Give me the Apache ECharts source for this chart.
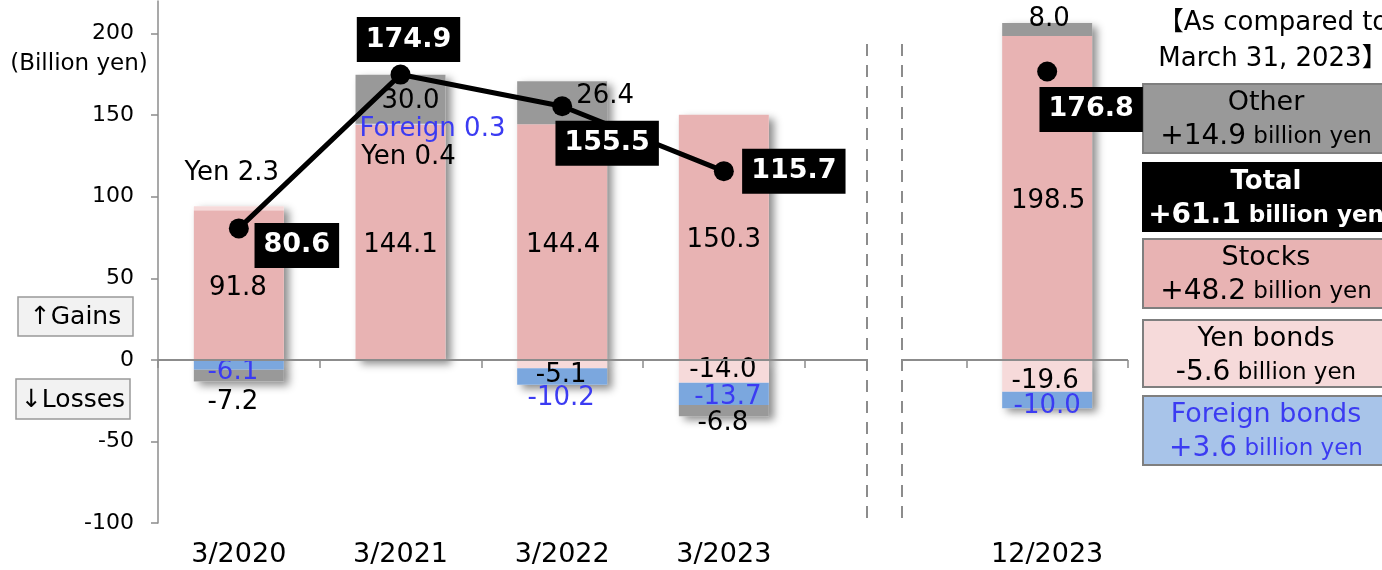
<!DOCTYPE html>
<html><head><meta charset="utf-8">
<script src="https://cdn.jsdelivr.net/npm/echarts@6/dist/echarts.min.js"></script>
<style>html,body{margin:0;padding:0;background:#fff}#c{width:1382px;height:570px}</style>
</head><body><div id="c"></div>
<script>
// ---- data ----
const categories = ['3/2020', '3/2021', '3/2022', '3/2023', '', '12/2023'];
const stocks = [91.8, 144.1, 144.4, 150.3, null, 198.5];
const yenBonds = [2.3, 0.4, -5.1, -14.0, null, -19.6];
const foreignBonds = [-6.1, 0.3, -10.2, -13.7, null, -10.0];
const other = [-7.2, 30.0, 26.4, -6.8, null, 8.0];
const total = [80.6, 174.9, 155.5, 115.7, null, 176.8];
const yTicks = [-100, -50, 0, 50, 100, 150, 200];
const yenPrefix = ['Yen ', 'Yen ', '', '', '', ''];
const foreignPrefix = ['', 'Foreign ', '', '', '', ''];
const changeNames = ['Other', 'Total', 'Stocks', 'Yen bonds', 'Foreign bonds'];
const changeValues = ['+14.9', '+61.1', '+48.2', '-5.6', '+3.6'];

// ---- styles / layout ----
const FONT = '"DejaVu Sans", "Noto Sans CJK JP", sans-serif';
const C_STOCKS = '#E8B3B3', C_YEN = '#F6DADA', C_FOREIGN = '#7BA7DE', C_OTHER = '#999999';
const C_BLUE_TXT = '#3B3BF2', AXIS = '#8c8c8c';
const stockOff = [[-1,3],[0,3],[1,3],[0,3],null,[1,3]];
const yenOff = [[-7,-35],[8,33],[-1,11],[-1,-1],null,[-2,5]];
const foreignOff = [[-6,7],[32,5],[-1,22],[4,3],null,[0,6]];
const otherOff = [[-6,27],[10,2],[43,-7],[-1,13],null,[2,-10]];
const totalOff = [[58,17],[8,-35],[45,37],[70,0],null,[44,38]];

function segSeries(name, values, color, offsets, prefixes, txtColor) {
  return {
    type: 'bar', name, stack: 'main', xAxisIndex: 0, barWidth: 90, barGap: '-100%', z: 3,
    itemStyle: { color },
    data: values.map((v, i) => v == null ? '-' : { value: v, label: { offset: offsets[i] } }),
    label: {
      show: true, position: 'inside', color: txtColor, fontSize: 26, fontFamily: FONT,
      textBorderWidth: 0,
      formatter: p => (prefixes ? prefixes[p.dataIndex] : '') + Number(p.value).toFixed(1)
    }
  };
}
const posSum = categories.map((c, i) => [stocks, yenBonds, foreignBonds, other].reduce((s, a) => s + (a[i] > 0 ? a[i] : 0), 0));
const negSum = categories.map((c, i) => [stocks, yenBonds, foreignBonds, other].reduce((s, a) => s + (a[i] < 0 ? a[i] : 0), 0));
function shadowSeries(vals) {
  return {
    type: 'bar', stack: 'shadow', xAxisIndex: 0, barWidth: 90, barGap: '-100%', z: 2, silent: true,
    itemStyle: { color: '#fff', shadowColor: 'rgba(0,0,0,0.45)', shadowBlur: 8, shadowOffsetX: 5, shadowOffsetY: 4 },
    data: vals.map(v => v === 0 ? '-' : v)
  };
}

const graphics = [];
graphics.push({ type: 'text', x: 79, y: 64, style: { text: '(Billion yen)', fontSize: 23, fontFamily: FONT, fill: '#000', align: 'center', verticalAlign: 'middle' } });
[['↑Gains', 18, 297, 115, 39], ['↓Losses', 16, 379, 114, 40]].forEach(([t, x, y, w, h]) => {
  graphics.push({ type: 'rect', shape: { x, y, width: w, height: h }, style: { fill: '#F2F2F2', stroke: '#999', lineWidth: 1.5 } });
  graphics.push({ type: 'text', x: x + w / 2, y: y + h / 2 + 1, style: { text: t, fontSize: 25, fontFamily: FONT, fill: '#000', align: 'center', verticalAlign: 'middle' } });
});
graphics.push({ type: 'text', x: 1273, y: 23, style: { text: '【As compared to', fontSize: 26, fontFamily: FONT, fill: '#000', align: 'center', verticalAlign: 'middle' } });
graphics.push({ type: 'text', x: 1273, y: 59, style: { text: 'March 31, 2023】', fontSize: 26, fontFamily: FONT, fill: '#000', align: 'center', verticalAlign: 'middle' } });
const boxStyle = [
  { y: 84, h: 69, fill: '#999999', stroke: '#7f7f7f', color: '#000', bold: false },
  { y: 163, h: 68, fill: '#000000', stroke: '#000', color: '#fff', bold: true },
  { y: 239, h: 69, fill: '#E8B3B3', stroke: '#7f7f7f', color: '#000', bold: false },
  { y: 320, h: 67, fill: '#F6DADA', stroke: '#7f7f7f', color: '#000', bold: false },
  { y: 396, h: 69, fill: '#A8C4E9', stroke: '#7f7f7f', color: C_BLUE_TXT, bold: false }
];
changeNames.forEach((n, i) => {
  const b = boxStyle[i];
  const fw = b.bold ? 'bold' : 'normal';
  graphics.push({ type: 'rect', shape: { x: 1143, y: b.y, width: 260, height: b.h }, style: { fill: b.fill, stroke: b.stroke, lineWidth: 2 } });
  graphics.push({ type: 'text', x: 1266, y: b.y + 19, style: { text: n, fontSize: b.bold ? 26 : 27, fontWeight: fw, fontFamily: FONT, fill: b.color, align: 'center', verticalAlign: 'middle' } });
  graphics.push({ type: 'text', x: 1266, y: b.y + 53, style: {
    text: '{a|' + changeValues[i] + '}{b| billion yen}', align: 'center', verticalAlign: 'middle', fill: b.color,
    rich: { a: { fontSize: 28, fontWeight: fw, fontFamily: FONT, fill: b.color, color: b.color }, b: { fontSize: 23, fontWeight: fw, fontFamily: FONT, fill: b.color, color: b.color } }
  } });
});

const chart = echarts.init(document.getElementById('c'));
chart.setOption({
  animation: false,
  textStyle: { fontFamily: FONT },
  grid: { left: 158, right: 254, top: 1, bottom: 47, containLabel: false, outerBoundsMode: 'none' },
  xAxis: [
    { type: 'category', data: categories, position: 'bottom', axisLine: { show: false, onZero: false }, axisTick: { show: false },
      axisLabel: { fontSize: 27, color: '#000', margin: 18, fontFamily: FONT, interval: 0 } },
    { type: 'category', data: categories, position: 'bottom', axisLine: { show: true, onZero: true, lineStyle: { opacity: 0 } },
      axisTick: { show: true, length: 8, lineStyle: { color: AXIS, width: 1.5 } }, axisLabel: { show: false } },
    { type: 'value', min: 0, max: 6, show: false }
  ],
  yAxis: {
    type: 'value', min: -100, max: 220, interval: 50,
    axisLine: { show: true, lineStyle: { color: AXIS, width: 1.5 } },
    axisTick: { show: true, length: 7, customValues: yTicks, lineStyle: { color: AXIS, width: 1.5 } },
    axisLabel: { customValues: yTicks, fontSize: 22, color: '#000', margin: 24, fontFamily: FONT },
    splitLine: { show: false }
  },
  graphic: graphics,
  series: [
    shadowSeries(posSum),
    shadowSeries(negSum),
    segSeries('Stocks', stocks, C_STOCKS, stockOff, null, '#000'),
    segSeries('Yen bonds', yenBonds, C_YEN, yenOff, yenPrefix, '#000'),
    segSeries('Foreign bonds', foreignBonds, C_FOREIGN, foreignOff, foreignPrefix, C_BLUE_TXT),
    segSeries('Other', other, C_OTHER, otherOff, null, '#000'),
    {
      type: 'line', name: 'Total', xAxisIndex: 0, z: 6, connectNulls: false,
      symbol: 'circle', symbolSize: 20, showAllSymbol: true,
      lineStyle: { color: '#000', width: 5 }, itemStyle: { color: '#000' },
      data: total.map((v, i) => v == null ? '-' : { value: v, label: { offset: totalOff[i] } }),
      label: { show: true, position: 'inside', color: '#fff', fontWeight: 'bold', fontSize: 27, fontFamily: FONT,
        backgroundColor: '#000', padding: [10, 9, 8, 9], textBorderWidth: 0, formatter: p => Number(p.value).toFixed(1) }
    },
    {
      type: 'line', xAxisIndex: 2, yAxisIndex: 0, data: [], silent: true, z: 1,
      markLine: {
        silent: true, symbol: ['none', 'none'], label: { show: false }, animation: false,
        data: [
          [{ coord: [0, 0], lineStyle: { color: AXIS, width: 2, type: 'solid' } }, { coord: [4.385, 0] }],
          [{ coord: [4.6, 0], lineStyle: { color: AXIS, width: 2, type: 'solid' } }, { coord: [6, 0] }],
          [{ coord: [4.385, -97], lineStyle: { color: AXIS, width: 2, type: [12, 9] } }, { coord: [4.385, 194] }],
          [{ coord: [4.6, -97], lineStyle: { color: AXIS, width: 2, type: [12, 9] } }, { coord: [4.6, 194] }]
        ]
      }
    }
  ]
});
</script></body></html>
